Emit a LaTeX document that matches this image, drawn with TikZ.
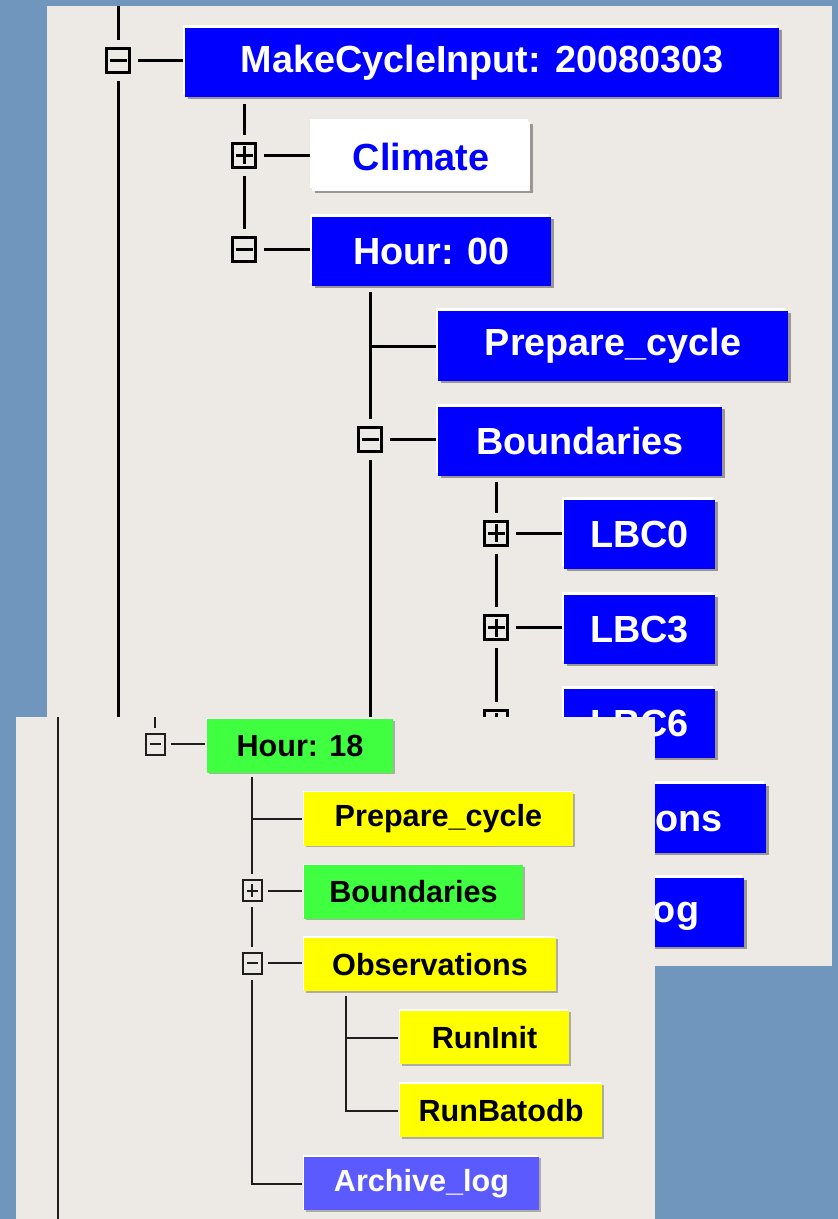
\documentclass[tikz,border=0pt]{standalone}
\usepackage{fontspec}
\newfontfamily\guifont{Liberation Sans}
\usetikzlibrary{calc}

\definecolor{desk}{RGB}{112,150,190}
\definecolor{winbg}{RGB}{237,234,229}
\definecolor{taskblue}{RGB}{0,0,255}
\definecolor{bevel}{RGB}{155,150,145}
\definecolor{done}{RGB}{64,255,64}
\definecolor{queued}{RGB}{255,255,0}
\definecolor{archblue}{RGB}{90,90,255}
\definecolor{branch}{RGB}{30,30,30}

\tikzset{
  task/.style={font=\guifont\bfseries\fontsize{18.9}{22}\selectfont, text=white, fill=taskblue,
    minimum height=34.5pt, inner sep=0pt, outer sep=1pt,
    preaction={fill=bevel, transform canvas={shift={(1.5pt,-1pt)}}},
    preaction={fill=white, transform canvas={shift={(-1pt,1.5pt)}}}},
  task18/.style={font=\guifont\bfseries\fontsize{15.3}{18}\selectfont, text=black,
    minimum height=26.75pt, inner sep=0pt, outer sep=1pt,
    preaction={fill=bevel!80, transform canvas={shift={(1pt,-0.75pt)}}},
    preaction={fill=white, transform canvas={shift={(-0.5pt,0.75pt)}}}},
  sign/.style={draw, line width=1.5pt, fill=winbg, minimum width=11.5pt, minimum height=12pt,
    inner sep=0pt, outer sep=4.25pt},
  minus/.style={sign, path picture={
    \draw[line width=1.5pt] ([xshift=1.5pt]path picture bounding box.west) -- ([xshift=-1.5pt]path picture bounding box.east);}},
  plus/.style={sign, path picture={
    \draw[line width=1.5pt] ([xshift=1.5pt]path picture bounding box.west) -- ([xshift=-1.5pt]path picture bounding box.east)
      ([yshift=-1.5pt]path picture bounding box.north) -- ([yshift=1.5pt]path picture bounding box.south);}},
  sign18/.style={draw=branch, line width=1pt, fill=winbg, minimum width=9.5pt, minimum height=10.5pt,
    inner sep=0pt, outer sep=3pt},
  minus18/.style={sign18, path picture={
    \draw[branch, line width=1pt] ([xshift=2pt]path picture bounding box.west) -- ([xshift=-2pt]path picture bounding box.east);}},
  plus18/.style={sign18, path picture={
    \draw[branch, line width=1pt] ([xshift=2pt]path picture bounding box.west) -- ([xshift=-2pt]path picture bounding box.east)
      ([yshift=-2pt]path picture bounding box.north) -- ([yshift=2pt]path picture bounding box.south);}},
  link/.style={line width=1.5pt},
  link18/.style={draw=branch, line width=1pt}
}

\begin{document}
\begin{tikzpicture}[x=0.5pt, y=-0.5pt]
\fill[desk] (0,0) rectangle (838,1219);
\useasboundingbox (0,0) rectangle (838,1219);

% window behind
\fill[winbg] (47,6) rectangle (832,966);

\node[task, minimum width=297pt] (mci) at (482,62.5) {MakeCycleInput: 20080303};
\node[task, fill=white, text=taskblue, minimum width=109pt] (climate) at (421,156.5) {Climate};
\node[task, minimum width=119.5pt] (hour00) at (431.5,251.5) {Hour: 00};
\node[task, minimum width=175pt] (prep) at (613,346) {Prepare\_cycle};
\node[task, minimum width=142pt] (bound) at (580,441) {Boundaries};
\node[task, minimum width=75.5pt] (lbc0) at (639.5,534.5) {LBC0};
\node[task, minimum width=75.5pt] (lbc3) at (639.5,629.5) {LBC3};
\node[task, minimum width=75.5pt] (lbc6) at (639.5,723.5) {LBC6};
\node[task, minimum width=164pt] (obs) at (602,818) {Observations};
\node[task, minimum width=153pt] (arch) at (591,912.5) {Archive\_log};

\node[minus] (xmci) at (118,61) {};
\node[plus] (xclim) at (244,155.5) {};
\node[minus] (xhour) at (244,250) {};
\node[minus] (xbound) at (370,439) {};
\node[plus] (xlbc0) at (496,533) {};
\node[plus] (xlbc3) at (496,627.5) {};
\node[plus] (xlbc6) at (496,722) {};

\coordinate (trunktop) at (118,6);
\coordinate (trunkend) at (118,966);

\draw[link] (trunktop) -- (xmci) -- (trunkend);
\draw[link] (xmci) -- (xmci -| mci.west);
\draw[link, shorten <=2.5pt] (xclim |- mci.south) -- (xclim);
\draw[link] (xclim) -- (xhour);
\draw[link] (xclim) -- (xclim -| climate.west);
\draw[link] (xhour) -- (xhour -| hour00.west);
\draw[link, shorten <=2pt] (xbound |- hour00.south) -- (xbound);
\draw[link] (xbound |- prep.west) -- (prep.west);
\draw[link] (xbound) -- (xbound -| bound.west);
\draw[link] (xbound) -- (xbound |- arch.west) -- (arch.west);
\draw[link, shorten <=2pt] (xlbc0 |- bound.south) -- (xlbc0);
\draw[link] (xlbc0) -- (xlbc3) -- (xlbc6);
\draw[link] (xlbc0) -- (xlbc0 -| lbc0.west);
\draw[link] (xlbc3) -- (xlbc3 -| lbc3.west);
\draw[link] (xlbc6) -- (xlbc6 -| lbc6.west);

% window in front
\fill[winbg] (16,717) rectangle (655,1219);

\node[task18, fill=done, minimum width=93pt] (h18) at (300,746) {Hour: 18};
\node[task18, fill=queued, minimum width=134.5pt] (p18) at (438.5,819) {Prepare\_cycle};
\node[task18, fill=done, minimum width=109.5pt] (b18) at (413.5,892) {Boundaries};
\node[task18, fill=queued, minimum width=126pt] (o18) at (430,964.5) {Observations};
\node[task18, fill=queued, minimum width=84.5pt] (ri18) at (484.5,1037.5) {RunInit};
\node[task18, fill=queued, minimum width=101pt] (rb18) at (501,1110.5) {RunBatodb};
\node[task18, fill=archblue, text=white, minimum width=117.5pt] (a18) at (421.5,1183.5) {Archive\_log};

\node[minus18] (x18) at (155,744) {};
\node[plus18] (xb18) at (252,890.5) {};
\node[minus18] (xo18) at (252,963) {};

\coordinate (frtop) at (58,717);
\coordinate (frend) at (58,1219);
\coordinate (tick) at (155,717);
\coordinate (o18stem) at ($(o18.south west)+(44,3)$);

\draw[link18] (frtop) -- (frend);
\draw[link18] (tick) -- (x18);
\draw[link18] (x18) -- (x18 -| h18.west);
\draw[link18, shorten <=1pt] (xb18 |- h18.south) -- (xb18);
\draw[link18] (xb18 |- p18.west) -- (p18.west);
\draw[link18] (xb18) -- (xb18 -| b18.west);
\draw[link18] (xb18) -- (xo18);
\draw[link18] (xo18) -- (xo18 -| o18.west);
\draw[link18] (xo18) -- (xo18 |- a18.west) -- (a18.west);
\draw[link18] (o18stem) -- (o18stem |- rb18.west) -- (rb18.west);
\draw[link18] (o18stem |- ri18.west) -- (ri18.west);
\end{tikzpicture}
\end{document}
